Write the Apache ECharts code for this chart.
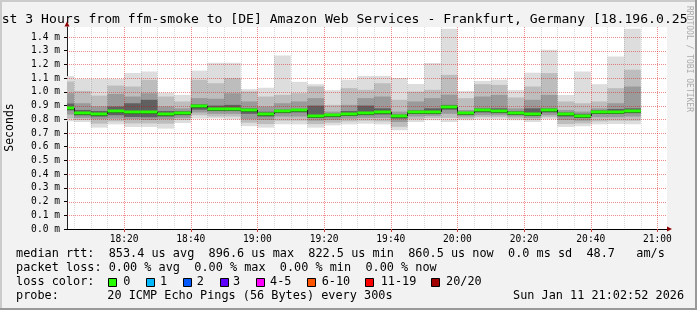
<!DOCTYPE html>
<html><head><meta charset="utf-8">
<script src="https://cdn.jsdelivr.net/npm/echarts@6/dist/echarts.min.js"></script>
<style>html,body{margin:0;padding:0;background:#f2f2f2;overflow:hidden}#c{width:697px;height:310px}</style>
</head><body><div id="c"></div>
<script>
// ---- data (values in milliseconds) ----
const binEnds = ['18:05','18:10','18:15','18:20','18:25','18:30','18:35','18:40','18:45','18:50','18:55','19:00',
  '19:05','19:10','19:15','19:20','19:25','19:30','19:35','19:40','19:45','19:50','19:55','20:00',
  '20:05','20:10','20:15','20:20','20:25','20:30','20:35','20:40','20:45','20:50','20:55'];
const medianMs = [0.885,0.845,0.838,0.861,0.853,0.854,0.837,0.846,0.8966,0.876,0.876,0.867,0.838,0.861,0.868,0.8225,0.830,0.839,0.847,0.855,0.824,0.855,0.855,0.892,0.846,0.869,0.862,0.847,0.839,0.869,0.839,0.8235,0.855,0.855,0.8605];
const maxMs = [1.115,1.095,1.095,1.095,1.138,1.148,0.994,0.978,1.155,1.213,1.213,1.020,1.030,1.265,1.073,1.056,1.012,1.089,1.116,1.116,1.101,1.057,1.211,1.461,1.006,1.080,1.089,1.013,1.140,1.307,0.977,1.148,1.056,1.257,1.461];
const upper2Ms = [1.075,1.007,0.973,1.046,1.039,1.088,0.966,0.930,1.088,1.063,1.100,1.003,0.966,0.978,0.990,1.040,0.905,1.027,1.015,1.063,0.942,1.002,1.015,1.124,0.954,1.056,1.051,0.959,1.039,1.137,0.930,0.917,0.930,1.027,1.161];
const upper3Ms = [0.990,0.917,0.893,0.985,0.966,0.990,0.893,0.880,0.954,0.950,0.990,0.930,0.893,0.917,0.930,0.954,0.856,0.905,0.954,0.966,0.856,0.930,0.954,0.980,0.868,0.966,0.978,0.880,0.942,0.978,0.868,0.856,0.880,0.917,1.039];
const upper4Ms = [0.915,0.868,0.860,0.893,0.917,0.942,0.860,0.860,0.910,0.900,0.905,0.880,0.855,0.870,0.876,0.900,0.840,0.860,0.900,0.880,0.835,0.865,0.880,0.905,0.855,0.880,0.880,0.860,0.880,0.880,0.850,0.840,0.865,0.875,0.880];
const lower4Ms = [0.865,0.829,0.820,0.830,0.817,0.815,0.820,0.830,0.870,0.860,0.860,0.840,0.820,0.845,0.850,0.810,0.815,0.825,0.830,0.835,0.805,0.840,0.840,0.870,0.835,0.850,0.845,0.835,0.825,0.850,0.820,0.810,0.840,0.840,0.845];
const lower3Ms = [0.835,0.810,0.800,0.805,0.800,0.795,0.800,0.810,0.850,0.840,0.840,0.800,0.795,0.820,0.820,0.790,0.795,0.805,0.810,0.810,0.780,0.820,0.825,0.840,0.820,0.830,0.830,0.820,0.810,0.830,0.795,0.790,0.815,0.815,0.820];
const lower2Ms = [0.805,0.795,0.768,0.785,0.770,0.770,0.768,0.795,0.830,0.820,0.820,0.775,0.765,0.790,0.790,0.765,0.775,0.785,0.790,0.785,0.745,0.800,0.810,0.810,0.805,0.815,0.815,0.805,0.795,0.815,0.765,0.770,0.785,0.790,0.790];
const minMs = [0.785,0.780,0.739,0.763,0.744,0.744,0.732,0.773,0.805,0.805,0.798,0.750,0.739,0.763,0.763,0.739,0.756,0.763,0.768,0.763,0.720,0.780,0.793,0.780,0.793,0.798,0.798,0.793,0.780,0.800,0.744,0.749,0.763,0.765,0.763];
const xTickLabels = ['18:20','18:40','19:00','19:20','19:40','20:00','20:20','20:40','21:00'];
const yTicks = [0.0,0.1,0.2,0.3,0.4,0.5,0.6,0.7,0.8,0.9,1.0,1.1,1.2,1.3,1.4];
const windowStart = '18:02:52', windowEnd = '21:02:52';
const stepMin = 5;
const yMax = 1.473;
const titleText = 'st 3 Hours from ffm-smoke to [DE] Amazon Web Services - Frankfurt, Germany [18.196.0.25';
const rttStats = ['853.4 us avg','896.6 us max','822.5 us min','860.5 us now','0.0 ms sd','48.7   am/s'];
const lossStats = ['0.00 % avg','0.00 % max','0.00 % min','0.00 % now'];
const lossLabels = ['0','1','2','3','4-5','6-10','11-19','20/20'];
const lossColors = ['#26ff00','#00b8ff','#0059ff','#5e00ff','#ff00ff','#ff5500','#ff0000','#a10000'];
const probeText = '20 ICMP Echo Pings (56 Bytes) every 300s';
const stampText = 'Sun Jan 11 21:02:52 2026';

// ---- helpers ----
function toMin(s){const p=s.split(':').map(Number);return p[0]*60+p[1]+(p[2]||0)/60;}
function fmt(v){const h=Math.floor(v/60+1e-6),m=Math.round(v-h*60);return String(h).padStart(2,'0')+':'+String(m).padStart(2,'0');}
const MONO='"DejaVu Sans Mono", monospace';
const majorVals = xTickLabels.map(toMin);
const minorVals = binEnds.filter(t=>!xTickLabels.includes(t)).map(toMin);

function layer(lo, hi, color, z){
  return {type:'custom', silent:true, z:z, clip:true,
    encode:{x:[0,1], y:[2,3]},
    data: binEnds.map((t,i)=>[toMin(t)-stepMin, toMin(t), lo[i], hi[i]]),
    renderItem(params, api){
      const a = api.coord([api.value(0), api.value(3)]);
      const b = api.coord([api.value(1), api.value(2)]);
      const cs = params.coordSys;
      const shape = echarts.graphic.clipRectByRect({x:a[0], y:a[1], width:b[0]-a[0], height:b[1]-a[1]},
        {x:cs.x, y:cs.y, width:cs.width, height:cs.height});
      return shape && {type:'rect', shape:shape, style:{fill:color}};
    }};
}
function gridLines(vals, vertical, color, z){
  return {type:'custom', silent:true, z:z,
    encode:{x:0, y:1},
    data: vals.map(v=> vertical ? [v, 0] : [toMin(windowStart), v]),
    renderItem(params, api){
      const cs = params.coordSys;
      const p = api.coord([api.value(0), api.value(1)]);
      if (vertical){
        const x = Math.round(p[0]) + 0.5;
        return {type:'line', shape:{x1:x, y1:cs.y, x2:x, y2:cs.y+cs.height}, style:{stroke:color, lineWidth:1, lineDash:[1,1]}};
      }
      const y = Math.round(p[1]) + 0.5;
      return {type:'line', shape:{x1:cs.x, y1:y, x2:cs.x+cs.width, y2:y}, style:{stroke:color, lineWidth:1, lineDash:[1,1]}};
    }};
}
const medianSeries = {type:'custom', silent:true, z:20,
  encode:{x:[0,1], y:[2]},
  data: binEnds.map((t,i)=>[toMin(t)-stepMin, toMin(t), medianMs[i], medianMs[Math.max(i-1,0)]]),
  renderItem(params, api){
    const cs = params.coordSys;
    const a = api.coord([api.value(0), api.value(2)]);
    const b = api.coord([api.value(1), api.value(2)]);
    const pv = api.coord([api.value(0), api.value(3)]);
    const x0 = Math.max(a[0], cs.x), x1 = b[0];
    const y = Math.round(a[1]);
    const ch = [];
    if (a[0] >= cs.x) ch.push({type:'line', shape:{x1:Math.round(a[0])+0.5, y1:Math.round(pv[1]), x2:Math.round(a[0])+0.5, y2:y}, style:{stroke:'#202020', lineWidth:1}});
    ch.push({type:'line', shape:{x1:x0, y1:y+1.5, x2:x1, y2:y+1.5}, style:{stroke:'#303030', lineWidth:1}});
    ch.push({type:'rect', shape:{x:x0, y:y-1.5, width:x1-x0, height:3}, style:{fill:'#26ff00'}});
    return {type:'group', children:ch};
  }};

const txt = (text, x, y, size, opts) => Object.assign({type:'text', x:x, y:y, silent:true, z:100,
  style:{text:text, fill:'#000', font: size+'px '+MONO, textAlign:'left', textVerticalAlign:'middle', align:'left', verticalAlign:'middle'}}, opts||{});

const graphic = [
  {type:'rect', silent:true, z:90, shape:{x:0,y:0,width:697,height:2}, style:{fill:'#cbcbcb'}},
  {type:'rect', silent:true, z:90, shape:{x:0,y:0,width:2,height:310}, style:{fill:'#cbcbcb'}},
  {type:'rect', silent:true, z:90, shape:{x:0,y:308,width:697,height:2}, style:{fill:'#999999'}},
  {type:'rect', silent:true, z:90, shape:{x:695,y:0,width:2,height:310}, style:{fill:'#999999'}},
  txt(titleText, 1.7, 19.2, 13.1),
  {type:'text', silent:true, z:100, x:10.5, y:127.5, rotation:Math.PI/2,
    style:{text:'Seconds', fill:'#000', font:'11.5px '+MONO, textAlign:'center', textVerticalAlign:'middle', align:'center', verticalAlign:'middle'}},
  {type:'text', silent:true, z:100, x:689.5, y:59, rotation:-Math.PI/2,
    style:{text:'RRDTOOL / TOBI OETIKER', fill:'#aaaaaa', font:'8px '+MONO, textAlign:'center', textVerticalAlign:'middle', align:'center', verticalAlign:'middle'}},
  {type:'polygon', silent:true, z:100, shape:{points:[[64.5,26.5],[69.5,26.5],[67,21.5]]}, style:{fill:'#8b0000'}},
  {type:'polygon', silent:true, z:100, shape:{points:[[667,226.5],[667,231.5],[672,229]]}, style:{fill:'#8b0000'}},
  txt('median rtt:  ' + rttStats.join('  '), 16, 254.2, 11.85),
  txt('packet loss: ' + lossStats.join('  '), 16, 268, 11.85),
  txt('loss color:', 16, 282.2, 11.85),
  txt('probe:', 16, 296.3, 11.85),
  txt(probeText, 107.3, 296.3, 11.85),
  txt(stampText, 513, 296.3, 11.85)
];
const boxX = [108.3,145.7,182.7,220,256,307.3,365,430.7];
const labX = [123.3,160,196.7,233,270,321.7,380.7,446];
lossLabels.forEach((l,i)=>{
  graphic.push({type:'rect', silent:true, z:100, shape:{x:Math.round(boxX[i])+0.5, y:278.5, width:8, height:8}, style:{fill:lossColors[i], stroke:'#000', lineWidth:1}});
  graphic.push(txt(l, labX[i], 282.2, 11.85));
});

const chart = echarts.init(document.getElementById('c'), null, {renderer:'canvas', width:697, height:310});
chart.setOption({
  animation:false,
  backgroundColor:'#f2f2f2',
  grid:{left:67, top:27, width:600, height:202, show:true, backgroundColor:'#ffffff', borderWidth:0},
  xAxis:{type:'value', min:toMin(windowStart), max:toMin(windowEnd),
    axisLine:{show:true, onZero:false, lineStyle:{color:'#000', width:1}},
    axisTick:{show:true, customValues:majorVals, length:3, lineStyle:{color:'#d04040'}},
    axisLabel:{show:true, customValues:majorVals, formatter:fmt, fontFamily:'DejaVu Sans Mono', fontSize:9.6, color:'#000', margin:5},
    splitLine:{show:false}},
  yAxis:{type:'value', min:0, max:yMax, interval:0.1,
    axisLine:{show:true, lineStyle:{color:'#202020', width:1}},
    axisTick:{show:true, customValues:yTicks, length:3, lineStyle:{color:'#000'}},
    axisLabel:{show:true, customValues:yTicks, formatter:v=>v.toFixed(1)+' m', fontFamily:'DejaVu Sans Mono', fontSize:9.6, color:'#000', margin:7},
    splitLine:{show:false}},
  series:[
    layer(minMs, maxMs, '#dddddd', 2),
    layer(lower2Ms, upper2Ms, '#bdbdbd', 3),
    layer(lower3Ms, upper3Ms, '#9a9a9a', 4),
    layer(lower4Ms, upper4Ms, '#606060', 5),
    gridLines(minorVals, true, 'rgba(0,0,0,0.15)', 10),
    gridLines(majorVals, true, 'rgba(225,0,0,0.45)', 11),
    gridLines(yTicks.filter(v=>v>0), false, 'rgba(225,0,0,0.45)', 11),
    medianSeries
  ],
  graphic: graphic
});
</script></body></html>
